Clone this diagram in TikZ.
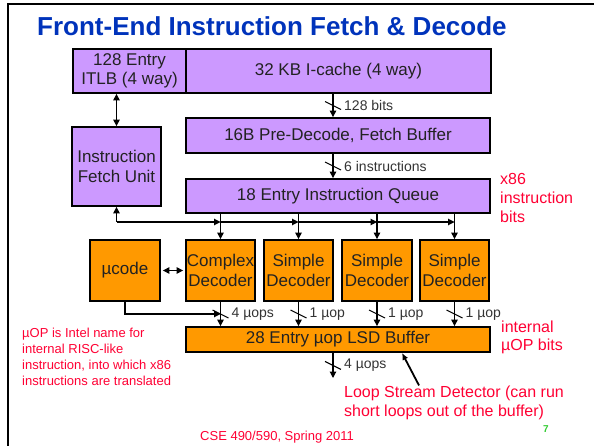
\documentclass[tikz,border=0pt]{standalone}
\usepackage{fontspec}
\setmainfont{Liberation Sans}
\usetikzlibrary{arrows.meta,calc}

\definecolor{blockpurple}{RGB}{204,153,255}
\definecolor{blockorange}{RGB}{255,153,0}
\definecolor{titleblue}{RGB}{0,51,187}
\definecolor{notered}{RGB}{255,0,51}
\definecolor{pagegreen}{RGB}{51,204,51}
\definecolor{inktext}{RGB}{34,34,34}
\definecolor{buslabelgray}{RGB}{51,51,51}

% slash across a bus arrow, with its width label to the right
\newcommand\busmark[2]{%
  \draw[slashline] (#1) ++(-8,-4) -- ++(16,8);
  \node[buslbl] at ([xshift=11pt]#1) {#2};}

\begin{document}
\begin{tikzpicture}[x=1pt,y=-1pt,
  block/.style={draw=black, line width=1.8pt, text=inktext, align=center,
    inner sep=0pt, font=\fontsize{17}{19.5}\selectfont},
  fetchblk/.style={block, fill=blockpurple},
  decblk/.style={block, fill=blockorange},
  arr/.style={line width=1.1pt, -{Triangle[length=6.5pt,width=6.5pt]}},
  dblarr/.style={line width=1.1pt,
    {Triangle[length=6.5pt,width=6.5pt]}-{Triangle[length=6.5pt,width=6.5pt]}},
  detarr/.style={line width=1.8pt, -{Latex[length=7pt,width=6pt]}},
  slashline/.style={line width=1.1pt},
  buslbl/.style={anchor=west, inner sep=0pt, text=buslabelgray,
    font=\fontsize{14}{16}\selectfont},
  note/.style={anchor=north west, inner sep=0pt, align=left, text=notered},
]
\useasboundingbox (0,0) rectangle (594,446);

% slide frame
\draw[line width=2pt] (7.5,446) |- (594,4.5);

% title
\node[anchor=base west, inner sep=0pt, text=titleblue,
  font=\fontsize{26}{30}\selectfont\bfseries] (title) at (37,36)
  {Front-End Instruction Fetch \& Decode};

% fetch stage
\node[fetchblk, minimum width=113pt, minimum height=44pt] (itlb) at (129.5,71)
  {128 Entry\\ITLB (4 way)};
\node[fetchblk, minimum width=305pt, minimum height=44pt] (icache) at (338.5,71)
  {32 KB I-cache (4 way)};
\node[fetchblk, minimum width=89pt, minimum height=79pt] (ifu) at (116.5,166.5)
  {Instruction\\Fetch Unit};
\node[fetchblk, minimum width=304pt, minimum height=35pt] (predec) at (338,135.5)
  {16B Pre-Decode, Fetch Buffer};
\node[fetchblk, minimum width=304pt, minimum height=34pt] (queue) at (338,196)
  {18 Entry Instruction Queue};

% decode stage
\node[decblk, minimum width=70pt, minimum height=61pt] (ucode) at (125,270.5) {µcode};
\node[decblk, minimum width=69pt, minimum height=61pt] (cdec) at (220.5,270.5)
  {Complex\\Decoder};
\node[decblk, minimum width=69pt, minimum height=61pt] (sdeca) at (298.5,270.5)
  {Simple\\Decoder};
\node[decblk, minimum width=70pt, minimum height=61pt] (sdecb) at (377,270.5)
  {Simple\\Decoder};
\node[decblk, minimum width=69pt, minimum height=61pt] (sdecc) at (454.5,270.5)
  {Simple\\Decoder};
\node[decblk, minimum width=304pt, minimum height=25pt] (lsd) at (338,339.5)
  {28 Entry µop LSD Buffer};

% helper rows and columns
\coordinate (busrow) at (0,222);
\coordinate (ucrow) at (0,314);
\coordinate (fetchcol) at (333,0);
\coordinate (lsdout) at (333,378);
\coordinate (detcol) at (402,0);

% ITLB <-> fetch unit
\draw[dblarr] (ifu.north) -- (ifu.north |- itlb.south);

% I-cache -> pre-decode -> queue
\draw[arr] (icache.south -| fetchcol) -- coordinate[pos=.5] (bw1) (predec.north -| fetchcol);
\busmark{bw1}{128 bits}
\draw[arr] (predec.south -| fetchcol) -- coordinate[pos=.5] (bw2) (queue.north -| fetchcol);
\busmark{bw2}{6 instructions}

% queue -> decoders
\foreach \d in {cdec,sdeca,sdecb,sdecc}
  \draw[arr] (\d.north |- queue.south) -- (\d.north);

% fetch unit bus to the decoders
\draw[arr] (ifu.south |- busrow) -- (ifu.south);
\draw[arr] (ifu.south |- busrow) -- (cdec.north |- busrow);
\draw[arr] (cdec.north |- busrow) -- (sdeca.north |- busrow);
\draw[arr] (sdeca.north |- busrow) -- (sdecb.north |- busrow);
\draw[arr] (sdecb.north |- busrow) -- (sdecc.north |- busrow);

% microcode
\draw[dblarr, shorten <=2pt, shorten >=2pt] (ucode.east) -- (cdec.west);
\draw[arr] (ucode.south) |- (cdec.south |- ucrow);

% decoders -> LSD buffer
\draw[arr] (cdec.south) -- coordinate[pos=.5] (bw3) (cdec.south |- lsd.north);
\busmark{bw3}{4 µops}
\draw[arr] (sdeca.south) -- coordinate[pos=.5] (bw4) (sdeca.south |- lsd.north);
\busmark{bw4}{1 µop}
\draw[arr] (sdecb.south) -- coordinate[pos=.5] (bw5) (sdecb.south |- lsd.north);
\busmark{bw5}{1 µop}
\draw[arr] (sdecc.south) -- coordinate[pos=.5] (bw6) (sdecc.south |- lsd.north);
\busmark{bw6}{1 µop}

% LSD buffer output
\draw[arr] (lsd.south -| lsdout) -- coordinate[pos=.5] (bw7) (lsdout);
\busmark{bw7}{4 µops}

% annotations
\node[note, font=\fontsize{16}{18.7}\selectfont] (x86note) at (500,173.5)
  {x86\\instruction\\bits};
\node[note, font=\fontsize{16}{18}\selectfont] (uopnote) at (501,320.3)
  {internal\\µOP bits};
\node[note, font=\fontsize{13}{16}\selectfont] (defnote) at (22,327.6)
  {µOP is Intel name for\\internal RISC-like\\instruction, into which x86\\instructions are translated};
\node[note, font=\fontsize{16}{19.5}\selectfont] (lsdnote) at (344,385.4)
  {Loop Stream Detector (can run\\short loops out of the buffer)};
\draw[detarr] ([xshift=75pt]lsdnote.north west) -- (lsd.south -| detcol);

% footer
\node[anchor=base west, inner sep=0pt, text=notered, font=\fontsize{13}{15}\selectfont]
  (footer) at (200,440) {CSE 490/590, Spring 2011};
\node[anchor=base west, inner sep=0pt, text=pagegreen, font=\fontsize{10}{12}\selectfont\bfseries]
  (pagenum) at (543,432) {7};
\end{tikzpicture}
\end{document}
